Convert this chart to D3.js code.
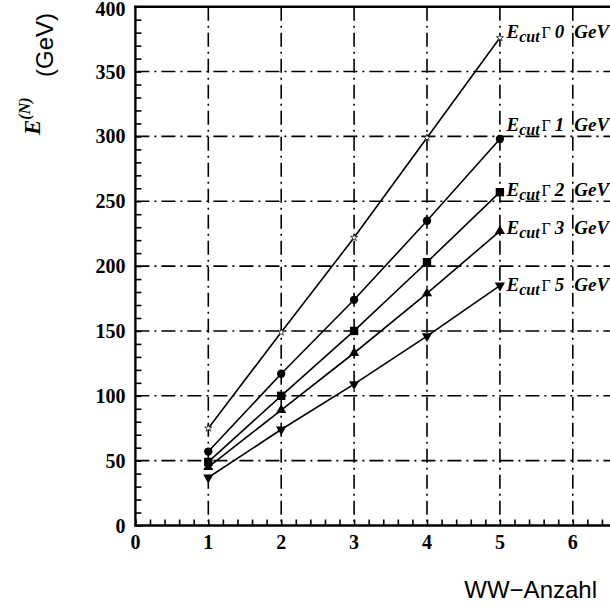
<!DOCTYPE html>
<html>
<head>
<meta charset="utf-8">
<script src="https://cdn.jsdelivr.net/npm/d3@7"></script>
<style>
  html, body { margin: 0; padding: 0; background: #fff; overflow: hidden; }
  svg { display: block; }
</style>
</head>
<body>
<svg id="chart"></svg>
<script>
// WW count on x, energy in GeV on y
const wwCount = [1, 2, 3, 4, 5];
const cutLabels = ['0', '1', '2', '3', '5'];
const cut0 = [75, 149, 222, 299, 376];
const cut1 = [57, 117, 174, 235, 298];
const cut2 = [49, 100, 150, 203, 257];
const cut3 = [45, 89, 133, 179, 227];
const cut5 = [37, 74, 109, 146, 185];
const labelY = [376, 304, 254, 225, 181];
const yTicks = [0, 50, 100, 150, 200, 250, 300, 350, 400];
const xTicks = [0, 1, 2, 3, 4, 5, 6];

const series = [cut0, cut1, cut2, cut3, cut5];
const markers = ['star', 'circle', 'square', 'triangle', 'down'];

const width = 610, height = 607;
const svg = d3.select('#chart').attr('width', width).attr('height', height);

const x = d3.scaleLinear().domain([0, 7]).range([135.4, 645.7]);
const y = d3.scaleLinear().domain([0, 400]).range([525.5, 6.7]);

const serif = '"Liberation Serif", "Times New Roman", serif';
const sans = '"Liberation Sans", Arial, sans-serif';

// grid
const grid = svg.append('g')
  .attr('stroke', '#000')
  .attr('stroke-width', 1.6)
  .attr('stroke-dasharray', '14,5,2,5');

grid.selectAll('line.h')
  .data(yTicks.filter(d => d > 0 && d < 400))
  .join('line')
    .attr('class', 'h')
    .attr('x1', x(0)).attr('x2', width + 20)
    .attr('y1', d => y(d)).attr('y2', d => y(d));

grid.selectAll('line.v')
  .data(xTicks.filter(d => d > 0))
  .join('line')
    .attr('class', 'v')
    .attr('x1', d => x(d)).attr('x2', d => x(d))
    .attr('y1', y(400)).attr('y2', y(0));

// axes with inward ticks
const yAxis = d3.axisRight(y)
  .tickValues(d3.range(0, 401, 10))
  .tickSize(6)
  .tickFormat('');
svg.append('g')
  .attr('transform', `translate(${x(0)},0)`)
  .call(yAxis)
  .call(g => g.select('.domain').remove())
  .call(g => g.selectAll('line').attr('stroke-width', 1.6));

const xAxis = d3.axisTop(x)
  .tickValues(d3.range(0, 7.01, 0.2))
  .tickSize(6)
  .tickFormat('');
svg.append('g')
  .attr('transform', `translate(0,${y(0)})`)
  .call(xAxis)
  .call(g => g.select('.domain').remove())
  .call(g => g.selectAll('line').attr('stroke-width', 1.6));

// frame
const frame = svg.append('g').attr('stroke', '#000').attr('stroke-width', 2.4);
frame.append('line').attr('x1', x(0)).attr('x2', x(0)).attr('y1', y(400) - 1).attr('y2', y(0) + 1);
frame.append('line').attr('x1', x(0) - 1).attr('x2', width + 20).attr('y1', y(0)).attr('y2', y(0));
frame.append('line').attr('x1', x(0) - 1).attr('x2', width + 20).attr('y1', y(400)).attr('y2', y(400));

// tick labels
svg.append('g')
  .selectAll('text')
  .data(yTicks)
  .join('text')
    .attr('x', x(0) - 10)
    .attr('y', d => y(d) + (d === 400 ? 2 : 0))
    .attr('dy', '0.35em')
    .attr('text-anchor', 'end')
    .attr('font-family', serif)
    .attr('font-weight', 'bold')
    .attr('font-size', 20)
    .text(d => d);

svg.append('g')
  .selectAll('text')
  .data(xTicks)
  .join('text')
    .attr('x', d => x(d))
    .attr('y', y(0) + 23)
    .attr('text-anchor', 'middle')
    .attr('font-family', serif)
    .attr('font-weight', 'bold')
    .attr('font-size', 20)
    .text(d => d);

// lines
const line = d3.line().x((d, i) => x(wwCount[i])).y(d => y(d));
svg.append('g')
  .selectAll('path')
  .data(series)
  .join('path')
    .attr('d', line)
    .attr('fill', 'none')
    .attr('stroke', '#000')
    .attr('stroke-width', 1.6);

// markers
function symbolFor(kind) {
  if (kind === 'circle') return d3.symbol(d3.symbolCircle, 55)();
  if (kind === 'square') return d3.symbol(d3.symbolSquare, 70)();
  if (kind === 'triangle' || kind === 'down') return d3.symbol(d3.symbolTriangle, 45)();
  return d3.symbol(d3.symbolStar, 16)();
}

series.forEach((vals, s) => {
  const kind = markers[s];
  svg.append('g')
    .selectAll('path')
    .data(vals)
    .join('path')
      .attr('d', symbolFor(kind))
      .attr('transform', (d, i) =>
        `translate(${x(wwCount[i])},${y(d)})` + (kind === 'down' ? ' rotate(180)' : ''))
      .attr('fill', kind === 'star' ? '#fff' : '#000')
      .attr('stroke', '#000')
      .attr('stroke-width', kind === 'star' ? 0.7 : 0);
});

// series labels
const lab = svg.append('g')
  .selectAll('text')
  .data(cutLabels)
  .join('text')
    .attr('x', x(5.09))
    .attr('y', (d, i) => y(labelY[i]))
    .attr('font-family', serif)
    .attr('font-size', 19)
    .attr('font-weight', 'bold')
    .attr('font-style', 'italic');
lab.append('tspan').text('E');
lab.append('tspan').attr('font-size', 16).attr('dy', 4).text('cut');
lab.append('tspan').attr('font-size', 16).attr('font-weight', 'normal')
  .attr('font-style', 'normal').attr('dy', -4).attr('dx', 2).text('Γ');
lab.append('tspan').attr('dx', 4).text(d => d);
lab.append('tspan').attr('dx', 10).text('GeV');

// axis titles
svg.append('text')
  .attr('x', 597)
  .attr('y', 598)
  .attr('text-anchor', 'end')
  .attr('font-family', sans)
  .attr('font-size', 24)
  .text('WW\u2212Anzahl');

svg.append('text')
  .attr('transform', 'translate(53,45) rotate(-90)')
  .attr('text-anchor', 'middle')
  .attr('font-family', sans)
  .attr('font-size', 24)
  .text('(GeV)');

const eTitle = svg.append('text')
  .attr('transform', 'translate(40,135) rotate(-90)')
  .attr('font-family', serif)
  .attr('font-weight', 'bold')
  .attr('font-style', 'italic')
  .attr('font-size', 23);
eTitle.append('tspan').text('E');
eTitle.append('tspan').attr('font-size', 16).attr('dy', -10).text('(N)');
</script>
</body>
</html>
